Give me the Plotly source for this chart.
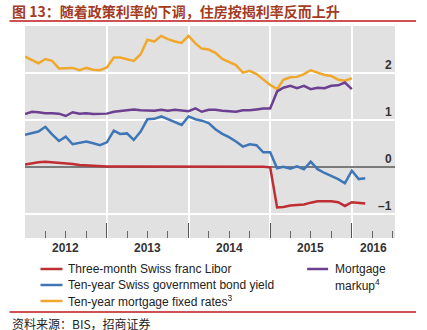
import plotly.graph_objects as go
import pandas as pd

months_all = pd.date_range("2012-01-01", "2016-03-01", freq="MS")
months_mort = pd.date_range("2012-01-01", "2016-01-01", freq="MS")

libor = [0.06, 0.09, 0.11, 0.12, 0.11, 0.10, 0.09, 0.07, 0.05, 0.04,
         0.03, 0.03, 0.02, 0.02, 0.02, 0.02, 0.02, 0.02, 0.02, 0.02,
         0.02, 0.02, 0.02, 0.02, 0.02, 0.02, 0.02, 0.02, 0.02, 0.02,
         0.02, 0.02, 0.02, 0.01, 0.01, 0.01, 0.00, -0.85, -0.84, -0.81,
         -0.80, -0.79, -0.75, -0.72, -0.72, -0.72, -0.74, -0.82, -0.74, -0.75,
         -0.77]
bond = [0.69, 0.73, 0.76, 0.86, 0.70, 0.56, 0.65, 0.49, 0.52, 0.55,
        0.51, 0.47, 0.53, 0.78, 0.71, 0.72, 0.58, 0.76, 1.02, 1.03,
        1.08, 1.02, 0.95, 0.90, 1.08, 1.02, 0.99, 0.94, 0.81, 0.71,
        0.64, 0.55, 0.44, 0.49, 0.47, 0.32, 0.32, -0.02, 0.01, -0.03,
        0.02, -0.04, 0.12, -0.04, -0.12, -0.18, -0.25, -0.34, -0.07, -0.25,
        -0.23]
mortgage = [2.35, 2.28, 2.21, 2.30, 2.26, 2.10, 2.10, 2.11, 2.06, 2.11,
            2.07, 2.06, 2.12, 2.33, 2.33, 2.30, 2.26, 2.40, 2.71, 2.67,
            2.79, 2.72, 2.67, 2.64, 2.79, 2.63, 2.52, 2.50, 2.43, 2.30,
            2.23, 2.17, 2.01, 2.05, 1.98, 1.87, 1.75, 1.66, 1.86, 1.91,
            1.92, 1.98, 2.06, 2.01, 1.96, 1.94, 1.86, 1.84, 1.89]
markup = [1.13, 1.18, 1.17, 1.15, 1.15, 1.14, 1.09, 1.17, 1.14, 1.15,
          1.13, 1.13, 1.14, 1.18, 1.20, 1.21, 1.23, 1.21, 1.20, 1.20,
          1.22, 1.20, 1.22, 1.20, 1.19, 1.25, 1.18, 1.22, 1.22, 1.20,
          1.19, 1.18, 1.21, 1.21, 1.23, 1.25, 1.25, 1.61, 1.69, 1.73,
          1.68, 1.73, 1.66, 1.69, 1.68, 1.73, 1.74, 1.80, 1.66]

year_labels = ["2012", "2013", "2014", "2015", "2016"]
year_label_pos = ["2012-07-01", "2013-07-01", "2014-07-01", "2015-07-01", "2016-04-05"]
y_labels = [2, 1, 0, -1]
y_label_text = ["2", "1", "0", "–1"]

names = ["Three-month Swiss franc Libor", "Ten-year Swiss government bond yield",
         "Ten-year mortgage fixed rates<sup>3</sup>", "Mortgage<br>markup<sup>4</sup>"]
colors = ["#be2e33", "#3f76b5", "#f0a82c", "#6c3f90"]

W, H = 427, 330
L, R, T, B = 24.5, 395, 26, 238

def px(x):
    return (x - L) / (R - L)

def py(y):
    return (B - y) / (B - T)

fig = go.Figure()
fig.add_trace(go.Scatter(x=months_mort, y=mortgage, mode="lines",
                         line=dict(color=colors[2], width=2.5), name=names[2]))
fig.add_trace(go.Scatter(x=months_mort, y=markup, mode="lines",
                         line=dict(color=colors[3], width=2.5), name=names[3]))
fig.add_trace(go.Scatter(x=months_all, y=bond, mode="lines",
                         line=dict(color=colors[1], width=2.5), name=names[1]))
fig.add_trace(go.Scatter(x=months_all, y=libor, mode="lines",
                         line=dict(color=colors[0], width=2.5), name=names[0]))

font = "Liberation Sans, Arial, sans-serif"
cjk = "Noto Sans CJK SC, sans-serif"

ann = []
for t, d in zip(year_labels, year_label_pos):
    ann.append(dict(x=d, y=py(248), xref="x", yref="paper", text="<b>%s</b>" % t,
                    showarrow=False, xanchor="center", yanchor="middle",
                    font=dict(family=font, size=12, color="#333333")))
for v, t in zip(y_labels, y_label_text):
    ann.append(dict(x=1, y=v, xref="paper", yref="y", text="<b>%s</b>" % t,
                    showarrow=False, xanchor="right", yanchor="bottom", xshift=-1, yshift=-1,
                    font=dict(family=font, size=12, color="#333333")))

shapes = []
# legend
leg = [(40, 62, 269, 0), (40, 62, 285, 1), (40, 62, 301, 2), (307, 328, 269, 3)]
for x0, x1, yy, i in leg:
    shapes.append(dict(type="line", xref="paper", yref="paper", x0=px(x0), x1=px(x1),
                       y0=py(yy), y1=py(yy), line=dict(color=colors[i], width=2.5)))
legtext = [(66, 269, names[0]), (66, 285, names[1]), (66, 301, names[2]),
           (333, 269, "Mortgage"), (333, 285, "markup<sup>4</sup>")]
for x0, yy, t in legtext:
    ann.append(dict(x=px(x0), y=py(yy), xref="paper", yref="paper", text=t,
                    showarrow=False, xanchor="left", yanchor="middle",
                    font=dict(family=font, size=12, color="#222222")))

# title & source
ann.append(dict(x=px(9), y=py(11), xref="paper", yref="paper",
                text="<b>图 13：随着政策利率的下调，住房按揭利率反而上升</b>",
                showarrow=False, xanchor="left", yanchor="middle",
                font=dict(family=cjk, size=14, color="#a33b1f")))
ann.append(dict(x=px(9), y=py(323), xref="paper", yref="paper",
                text="资料来源：BIS，招商证券",
                showarrow=False, xanchor="left", yanchor="middle",
                font=dict(family=cjk, size=12, color="#222222")))
for yy in (21, 312):
    shapes.append(dict(type="line", xref="paper", yref="paper", x0=px(9), x1=px(416),
                       y0=py(yy), y1=py(yy), line=dict(color="#c0171b", width=1.5)))

fig.update_layout(
    width=W, height=H,
    margin=dict(l=L, r=W - R, t=T, b=H - B, pad=0),
    paper_bgcolor="white", plot_bgcolor="#e1e1e1",
    showlegend=False,
    xaxis=dict(type="date", range=["2012-01-01", "2016-07-12"],
               tick0="2012-01-01", dtick="M12", showgrid=True, gridcolor="white",
               gridwidth=1.5, showticklabels=False, ticks="inside", ticklen=15,
               tickcolor="#555555", tickwidth=1.2, showline=False, zeroline=False,
               minor=dict(dtick="M3", tick0="2012-01-01", ticks="inside", ticklen=7,
                          tickcolor="#666666", tickwidth=1, showgrid=False)),
    yaxis=dict(range=[-1.5, 3], dtick=1, tick0=0, showgrid=True, gridcolor="white",
               gridwidth=1.5, showticklabels=False, zeroline=True,
               zerolinecolor="#7a7a7a", zerolinewidth=1.5, ticks=""),
    annotations=ann, shapes=shapes,
)

fig.write_html("out.html")
